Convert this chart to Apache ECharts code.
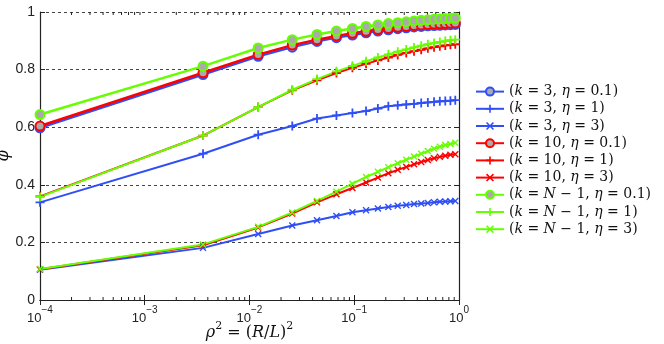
<!DOCTYPE html>
<html>
<head>
<meta charset="utf-8">
<script src="https://cdn.jsdelivr.net/npm/echarts@6/dist/echarts.min.js"></script>
<style>
  html, body { margin: 0; padding: 0; background: #fff; }
  #chart { width: 664px; height: 344px; }
</style>
</head>
<body>
<div id="chart"></div>
<script>
// rho values of the samples, x = rho^2
const rho = [0.01, 0.06, 0.11, 0.16, 0.21, 0.26, 0.31, 0.36, 0.41, 0.46,
             0.51, 0.56, 0.61, 0.66, 0.71, 0.76, 0.81, 0.86, 0.91, 0.96];

// k = 3
const k3e01 = [0.598, 0.783, 0.846, 0.878, 0.898, 0.911, 0.920, 0.928, 0.934, 0.938,
               0.942, 0.945, 0.948, 0.950, 0.952, 0.953, 0.954, 0.955, 0.956, 0.957];
const k3e1  = [0.339, 0.508, 0.574, 0.604, 0.630, 0.641, 0.649, 0.656, 0.665, 0.673,
               0.676, 0.679, 0.681, 0.684, 0.686, 0.688, 0.690, 0.691, 0.692, 0.694];
const k3e3  = [0.105, 0.181, 0.229, 0.259, 0.277, 0.292, 0.305, 0.312, 0.318, 0.323,
               0.327, 0.330, 0.333, 0.335, 0.337, 0.339, 0.341, 0.342, 0.343, 0.344];
// k = 10
const k10e01 = [0.604, 0.789, 0.852, 0.885, 0.904, 0.917, 0.926, 0.933, 0.939, 0.943,
                0.947, 0.950, 0.953, 0.955, 0.957, 0.958, 0.959, 0.960, 0.961, 0.962];
const k10e1  = [0.360, 0.571, 0.670, 0.728, 0.763, 0.788, 0.806, 0.820, 0.832, 0.842,
                0.851, 0.858, 0.864, 0.869, 0.874, 0.878, 0.881, 0.884, 0.886, 0.888];
const k10e3  = [0.107, 0.190, 0.252, 0.300, 0.339, 0.367, 0.389, 0.408, 0.425, 0.440,
                0.452, 0.462, 0.471, 0.479, 0.486, 0.492, 0.497, 0.501, 0.504, 0.506];
// k = N - 1
const kNe01 = [0.644, 0.812, 0.875, 0.904, 0.922, 0.934, 0.943, 0.950, 0.955, 0.960,
               0.963, 0.966, 0.969, 0.971, 0.973, 0.975, 0.976, 0.977, 0.978, 0.979];
const kNe1  = [0.358, 0.571, 0.670, 0.730, 0.767, 0.794, 0.813, 0.829, 0.842, 0.853,
               0.862, 0.870, 0.877, 0.883, 0.888, 0.892, 0.896, 0.899, 0.902, 0.904];
const kNe3  = [0.108, 0.193, 0.254, 0.304, 0.344, 0.376, 0.404, 0.427, 0.445, 0.461,
               0.475, 0.487, 0.498, 0.508, 0.517, 0.525, 0.532, 0.538, 0.542, 0.546];

const decades = [1e-4, 1e-3, 1e-2, 1e-1];
const mantissas = [2, 3, 4, 5, 6, 7, 8, 9];

const BLUE = '#2f4ff5', RED = '#ff0000', GREEN = '#66ff00';
const PLUS = 'path://M4,0H6V4H10V6H6V10H4V6H0V4H4Z';
const CROSS = 'path://M0,1.4L1.4,0L5,3.6L8.6,0L10,1.4L6.4,5L10,8.6L8.6,10L5,6.4L1.4,10L0,8.6L3.6,5Z';

function pairs(vals) {
    return rho.map((r, i) => [r * r, vals[i]]);
}

function mkSeries(name, vals, color, kind) {
    let s = {
        name: name,
        type: 'line',
        data: pairs(vals),
        showAllSymbol: true,
        animation: false,
        xAxisIndex: 0,
        yAxisIndex: 0
    };
    if (kind === 'circle') {
        s.symbol = 'circle';
        s.symbolSize = 9;
        s.itemStyle = { color: '#aaaaaa', borderColor: color, borderWidth: 2 };
        s.lineStyle = { color: color, width: 2.5 };
    } else {
        s.symbol = kind === 'plus' ? PLUS : CROSS;
        s.symbolSize = kind === 'plus' ? 9 : 7;
        s.itemStyle = { color: color, borderWidth: 0 };
        s.lineStyle = { color: color, width: 2 };
    }
    return s;
}

const names = [
    '(k = 3, η = 0.1)', '(k = 3, η = 1)', '(k = 3, η = 3)',
    '(k = 10, η = 0.1)', '(k = 10, η = 1)', '(k = 10, η = 3)',
    '(k = N − 1, η = 0.1)', '(k = N − 1, η = 1)', '(k = N − 1, η = 3)'
];

let minorTicks = [];
decades.forEach(d => mantissas.forEach(m => minorTicks.push(m * d)));

let series = [
    mkSeries(names[0], k3e01, BLUE, 'circle'),
    mkSeries(names[1], k3e1, BLUE, 'plus'),
    mkSeries(names[2], k3e3, BLUE, 'cross'),
    mkSeries(names[3], k10e01, RED, 'circle'),
    mkSeries(names[4], k10e1, RED, 'plus'),
    mkSeries(names[5], k10e3, RED, 'cross'),
    mkSeries(names[6], kNe01, GREEN, 'circle'),
    mkSeries(names[7], kNe1, GREEN, 'plus'),
    mkSeries(names[8], kNe3, GREEN, 'cross'),
    {
        // log-spaced minor ticks on bottom and top edges
        type: 'custom',
        silent: true,
        animation: false,
        data: minorTicks.map(v => [v, 0]),
        renderItem: function (params, api) {
            const cs = params.coordSys;
            const x = api.coord([api.value(0), 0])[0];
            const st = { stroke: '#222', lineWidth: 1 };
            return {
                type: 'group',
                children: [
                    { type: 'line', shape: { x1: x, y1: cs.y + cs.height, x2: x, y2: cs.y + cs.height - 3 }, style: st },
                    { type: 'line', shape: { x1: x, y1: cs.y, x2: x, y2: cs.y + 3 }, style: st }
                ]
            };
        }
    }
];

let chart = echarts.init(document.getElementById('chart'));
chart.setOption({
    backgroundColor: '#fff',
    animation: false,
    grid: { left: 40, right: 205, top: 12, bottom: 44, containLabel: false, outerBoundsMode: 'none' },
    legend: {
        data: names,
        orient: 'vertical',
        left: 470,
        top: 78,
        itemWidth: 28,
        itemHeight: 10,
        itemGap: 0,
        selectedMode: false,
        formatter: function (name) {
            return name.replace(/([kNη])/g, '{i|$1}');
        },
        textStyle: {
            fontFamily: 'DejaVu Serif',
            fontSize: 14,
            lineHeight: 17.2,
            color: '#111',
            rich: {
                i: { fontFamily: 'DejaVu Serif', fontStyle: 'italic', fontSize: 14, lineHeight: 17.2, color: '#111' }
            }
        }
    },
    xAxis: [{
        type: 'log',
        logBase: 10,
        min: 1e-4,
        max: 1,
        position: 'bottom',
        name: '{i|ρ}{s|2}{n| = (}{i|R}{n|/}{i|L}{n|)}{s|2}',
        nameLocation: 'middle',
        nameGap: 21,
        nameMoveOverlap: false,
        nameTextStyle: {
            rich: {
                i: { fontFamily: 'DejaVu Serif', fontStyle: 'italic', fontSize: 16, lineHeight: 20, color: '#111', verticalAlign: 'bottom' },
                n: { fontFamily: 'DejaVu Serif', fontSize: 16, lineHeight: 20, color: '#111', verticalAlign: 'bottom' },
                s: { fontFamily: 'DejaVu Serif', fontSize: 11, lineHeight: 20, color: '#111', verticalAlign: 'top' }
            }
        },
        axisLine: { show: true, lineStyle: { color: '#222', width: 1.2 } },
        axisTick: { show: true, inside: true, length: 5, lineStyle: { color: '#222' } },
        splitLine: { show: false },
        axisLabel: {
            margin: 5,
            fontSize: 12,
            fontFamily: 'Liberation Sans',
            color: '#222',
            formatter: function (v) {
                const e = Math.round(Math.log10(v));
                return e === 0 ? '{b|10}{s|0}' : '{b|10}{s|−' + (-e) + '}';
            },
            rich: {
                b: { fontFamily: 'Liberation Sans', fontSize: 13, lineHeight: 20, color: '#222', verticalAlign: 'bottom' },
                s: { fontFamily: 'Liberation Sans', fontSize: 10, lineHeight: 20, color: '#222', verticalAlign: 'top' }
            }
        }
    }, {
        type: 'log',
        logBase: 10,
        min: 1e-4,
        max: 1,
        position: 'top',
        axisLine: { show: true, lineStyle: { color: '#222', width: 1.2 } },
        axisTick: { show: true, inside: true, length: 5, lineStyle: { color: '#222' } },
        axisLabel: { show: false },
        splitLine: { show: false }
    }],
    yAxis: [{
        type: 'value',
        min: 0,
        max: 1,
        interval: 0.2,
        name: 'φ',
        nameLocation: 'middle',
        nameRotate: 90,
        nameGap: 28,
        nameMoveOverlap: false,
        nameTextStyle: { fontFamily: 'DejaVu Serif', fontStyle: 'italic', fontSize: 16, color: '#111' },
        axisLine: { show: true, lineStyle: { color: '#222', width: 1.2 } },
        axisTick: { show: true, inside: true, length: 5, lineStyle: { color: '#222' } },
        splitLine: { show: true, lineStyle: { color: '#444', type: [3, 3], width: 1 } },
        axisLabel: {
            margin: 5,
            fontFamily: 'Liberation Sans',
            fontSize: 14,
            color: '#222',
            formatter: v => String(+v.toFixed(1))
        }
    }, {
        type: 'value',
        min: 0,
        max: 1,
        interval: 0.2,
        position: 'right',
        axisLine: { show: true, lineStyle: { color: '#222', width: 1.2 } },
        axisTick: { show: true, inside: true, length: 5, lineStyle: { color: '#222' } },
        axisLabel: { show: false },
        splitLine: { show: false }
    }],
    series: series
});

window.addEventListener('resize', function () {
    chart.resize();
});
</script>
</body>
</html>
